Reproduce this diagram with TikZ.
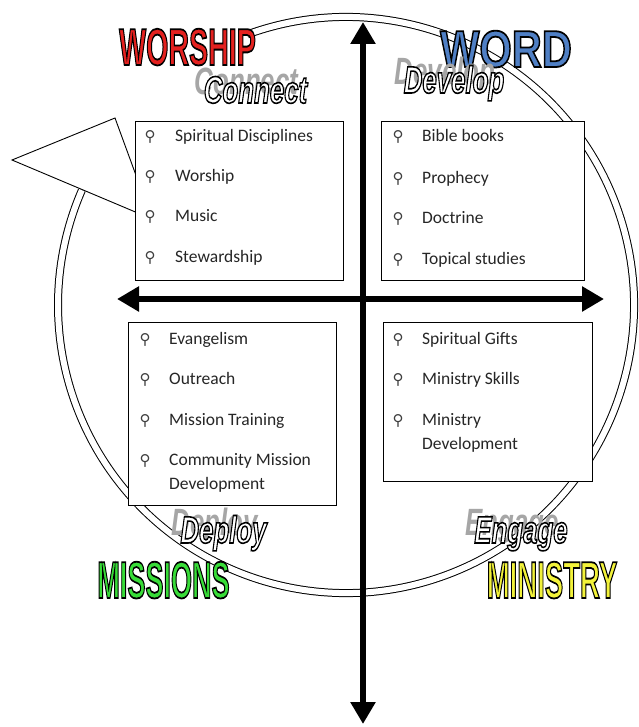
\documentclass[tikz,border=0pt]{standalone}
\usepackage{fontspec}
\setmainfont{Carlito}
\newfontfamily\pinfont{DejaVu Sans}
\newfontfamily\heavyfont{Liberation Sans}
\usetikzlibrary{arrows.meta}

\definecolor{worshipred}{HTML}{E4211F}
\definecolor{wordblue}{HTML}{4F7FC4}
\definecolor{missiongreen}{HTML}{38DC38}
\definecolor{ministryyellow}{HTML}{F2F23A}

\newcommand\outlined[2][1.5]{\special{pdf:literal direct 2 Tr #1 w 0 0 0 RG}#2\special{pdf:literal direct 0 Tr}}
\newcommand\itemlines[1]{\begin{tabular}[t]{@{}l@{}}#1\end{tabular}}

\tikzset{
    itembox/.style={draw, line width=0.9pt, fill=white, anchor=north west, inner sep=0pt},
    listitem/.style={anchor=base west, inner sep=0pt, text=black!85, font=\fontsize{17.5}{24}\selectfont},
    pin/.style={anchor=base, inner sep=0pt, text=black!75, font=\pinfont\fontsize{15}{15}\selectfont},
    axis/.style={line width=5.5pt, {Triangle[length=22pt,width=24pt]}-{Triangle[length=22pt,width=24pt]}},
    ring/.style={double, double distance=6pt, line width=1pt},
    title/.style={anchor=base, inner sep=0pt, font=\heavyfont\bfseries\fontsize{52}{52}\selectfont},
    motto/.style={anchor=base, inner sep=0pt, xscale=.68, font=\heavyfont\bfseries\itshape\fontsize{38}{38}\selectfont},
    mottoshadow/.style={motto, text=black!35},
}

\begin{document}
\begin{tikzpicture}[x=1pt, y=-1pt]
    \useasboundingbox (0,0) rectangle (638,727);

    \coordinate (O) at (346,305);
    \coordinate (N) at (363,22);
    \coordinate (S) at (363,724);
    \coordinate (W) at (117,299);
    \coordinate (E) at (604,299);

    \draw[ring] (O) ++(-110:288) arc[start angle=-110, end angle=203.5, radius=288];
    \draw[line width=0.9pt, fill=white] (12,160) -- (115,118) -- (152,219) -- cycle;

    \draw[axis] (S) -- (N);
    \draw[axis] (W) -- (E);

    \node[itembox, minimum width=208pt, minimum height=159pt] (connectbox) at (135,121) {};
    \node[itembox, minimum width=203pt, minimum height=159pt] (developbox) at (381,121) {};
    \node[itembox, minimum width=208pt, minimum height=183pt] (deploybox) at (128,322) {};
    \node[itembox, minimum width=209pt, minimum height=159pt] (engagebox) at (383,322) {};

    \foreach \txt/\y [count=\i] in {Spiritual Disciplines/142, Worship/182, Music/222, Stewardship/262} {
        \node[pin] (connectpin\i) at (150,\y) {⚲};
        \node[listitem] (connect\i) at (175,\y) {\itemlines{\txt}};
    }
    \foreach \txt/\y [count=\i] in {Bible books/142, Prophecy/184, Doctrine/223, Topical studies/264} {
        \node[pin] (developpin\i) at (398,\y) {⚲};
        \node[listitem] (develop\i) at (422,\y) {\itemlines{\txt}};
    }
    \foreach \txt/\y [count=\i] in {Evangelism/344, Outreach/384, Mission Training/425, {Community Mission\\Development}/465} {
        \node[pin] (deploypin\i) at (145,\y) {⚲};
        \node[listitem] (deploy\i) at (169,\y) {\itemlines{\txt}};
    }
    \foreach \txt/\y [count=\i] in {Spiritual Gifts/344, Ministry Skills/384, {Ministry\\Development}/425} {
        \node[pin] (engagepin\i) at (398,\y) {⚲};
        \node[listitem] (engage\i) at (422,\y) {\itemlines{\txt}};
    }

    \node[title, xscale=.55] (worship) at (187.5,65) {\textcolor{worshipred}{\outlined[1.8]{WORSHIP}}};
    \node[title, xscale=.8] (word) at (506,67) {\textcolor{wordblue}{\outlined[1.8]{WORD}}};
    \node[title, xscale=.52] (missions) at (163.5,598) {\textcolor{missiongreen}{\outlined[1.8]{MISSIONS}}};
    \node[title, xscale=.53] (ministry) at (552,598) {\textcolor{ministryyellow}{\outlined[1.8]{MINISTRY}}};

    \node[mottoshadow] at (246.5,95) {Connect};
    \node[motto] (connect) at (255.5,103) {\textcolor{white}{\outlined[1.6]{Connect}}};
    \node[mottoshadow] at (445,85) {Develop};
    \node[motto] (develop) at (454,93) {\textcolor{white}{\outlined[1.6]{Develop}}};
    \node[mottoshadow] at (214.5,535) {Deploy};
    \node[motto] (deploy) at (223.5,543) {\textcolor{white}{\outlined[1.6]{Deploy}}};
    \node[mottoshadow] at (512,535) {Engage};
    \node[motto] (engage) at (521,543) {\textcolor{white}{\outlined[1.6]{Engage}}};
\end{tikzpicture}
\end{document}
